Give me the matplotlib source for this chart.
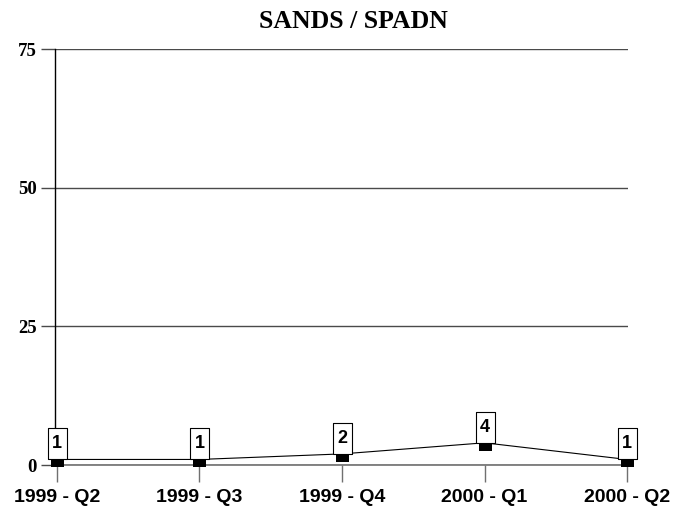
import numpy as np
import matplotlib
matplotlib.use('Agg')
from matplotlib import pyplot as plt
from matplotlib.path import Path

quarters = ['1999 - Q2', '1999 - Q3', '1999 - Q4', '2000 - Q1', '2000 - Q2']
counts = [1, 1, 2, 4, 1]
y_ticks = [0, 25, 50, 75]

fig = plt.figure(figsize=(6.84, 5.08), dpi=100)
ax = fig.add_axes([55 / 684, 1 - 465 / 508, 573 / 684, 416 / 508])

x = np.arange(len(quarters))

# label boxes sit on top of the point, small black block hangs below it
box_marker = Path([(-9.5, 0), (9.5, 0), (9.5, 31), (-9.5, 31), (-9.5, 0)],
                  [Path.MOVETO, Path.LINETO, Path.LINETO, Path.LINETO, Path.CLOSEPOLY])
block_marker = Path([(-6.5, -8), (6.5, -8), (6.5, 0), (-6.5, 0), (-6.5, -8)],
                    [Path.MOVETO, Path.LINETO, Path.LINETO, Path.LINETO, Path.CLOSEPOLY])

ax.plot(x, counts, color='black', lw=0.8, zorder=3, clip_on=False)
ax.plot(x, counts, ls='none', marker=block_marker, ms=8 * 2 * 0.72,
        mfc='black', mec='black', mew=0, zorder=4, clip_on=False)
ax.plot(x, counts, ls='none', marker=box_marker, ms=31 * 2 * 0.72,
        mfc='white', mec='black', mew=0.8, zorder=5, clip_on=False)

for xi, c in zip(x, counts):
    ax.annotate(str(c), (xi, c), xytext=(0, 15.5 * 0.72), textcoords='offset points',
                ha='center', va='center', fontsize=13, fontweight='bold',
                family='Liberation Sans', zorder=6)

ax.set_xlim(-0.014, 4.007)
ax.set_ylim(0, 75)
ax.set_yticks(y_ticks)
ax.set_yticklabels([str(v) for v in y_ticks], family='Liberation Serif',
                   fontweight='bold', fontsize=13.5)
ax.yaxis.grid(True, color='#4a4a4a', lw=1)
ax.tick_params(axis='y', length=10, color='#4a4a4a', width=1, pad=3)
ax.axhline(0, color='#707070', lw=1.2, zorder=2, clip_on=False)

ax.set_xticks(x)
ax.set_xticklabels(quarters, family='Liberation Sans', fontweight='bold', fontsize=14)
ax.tick_params(axis='x', length=12, color='#707070', width=1, pad=5)

for s in ['top', 'right', 'bottom']:
    ax.spines[s].set_visible(False)
ax.spines['left'].set_color('black')
ax.spines['left'].set_linewidth(1)

fig.text(353 / 684, 1 - 21 / 508, 'SANDS / SPADN', ha='center', va='center',
         family='Liberation Serif', fontweight='bold', fontsize=18.5)

fig.savefig('out.png', dpi=100, facecolor='white')
